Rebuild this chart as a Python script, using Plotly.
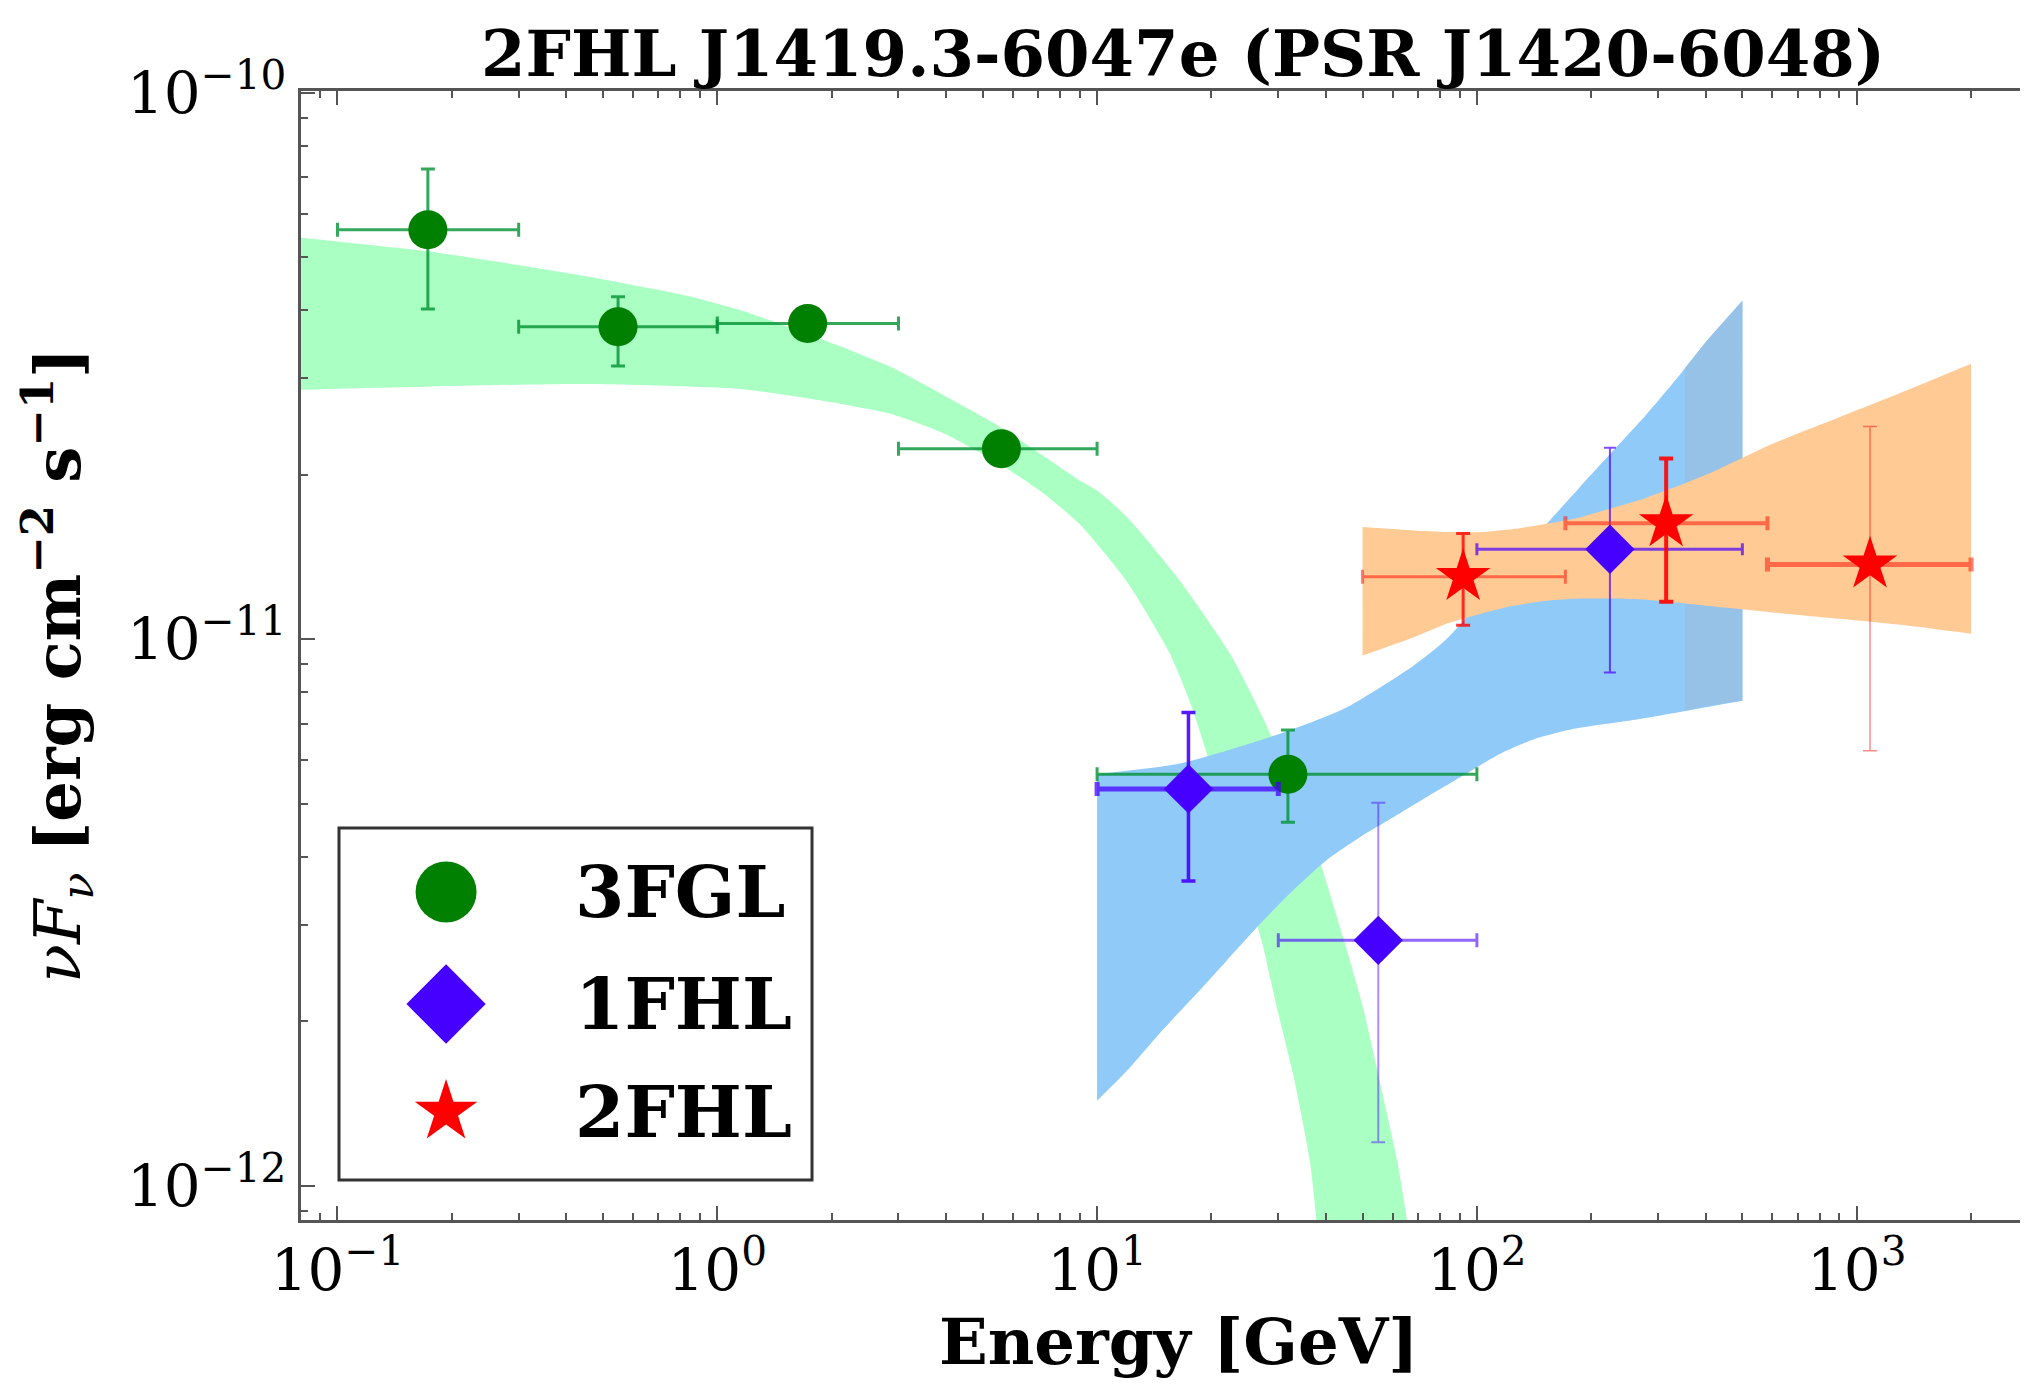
import plotly.graph_objects as go

# ---------------- data ----------------
series_names = ["3FGL", "1FHL", "2FHL"]

# 3FGL points (energy in GeV, flux nuFnu in erg cm^-2 s^-1)
fgl3_energy = [0.173, 0.548, 1.73, 5.6, 31.8]
fgl3_flux = [5.61e-11, 3.73e-11, 3.78e-11, 2.23e-11, 5.66e-12]
fgl3_e_low = [0.1, 0.3, 1.0, 3.0, 10.0]
fgl3_e_high = [0.3, 1.0, 3.0, 10.0, 100.0]
fgl3_f_low = [4.02e-11, 3.16e-11, 3.64e-11, 2.17e-11, 4.62e-12]
fgl3_f_high = [7.25e-11, 4.23e-11, 3.92e-11, 2.29e-11, 6.82e-12]

# 1FHL points
fhl1_energy = [17.4, 55.0, 224.0]
fhl1_flux = [5.32e-12, 2.81e-12, 1.46e-11]
fhl1_e_low = [10.0, 30.0, 100.0]
fhl1_e_high = [30.0, 100.0, 500.0]
fhl1_f_low = [3.61e-12, 1.20e-12, 8.69e-12]
fhl1_f_high = [7.34e-12, 5.02e-12, 2.24e-11]

# 2FHL points
fhl2_energy = [92.0, 315.0, 1084.0]
fhl2_flux = [1.30e-11, 1.63e-11, 1.37e-11]
fhl2_e_low = [50.0, 171.0, 582.0]
fhl2_e_high = [171.0, 582.0, 2000.0]
fhl2_f_low = [1.06e-11, 1.17e-11, 6.25e-12]
fhl2_f_high = [1.56e-11, 2.14e-11, 2.45e-11]

# 3FGL model band
band3fgl_e_upper = [0.0794, 0.178, 0.447, 0.832, 1.148, 1.549, 2.138, 2.884, 3.890,
                    5.370, 7.244, 8.913, 10.0, 12.02, 16.22, 22.39, 27.54, 36.3,
                    44.67, 50.12, 54.95, 61.66, 66.07]
band3fgl_f_upper = [5.43e-11, 5.11e-11, 4.62e-11, 4.25e-11, 4.00e-11, 3.72e-11, 3.42e-11,
                    3.14e-11, 2.81e-11, 2.48e-11, 2.16e-11, 1.96e-11, 1.87e-11, 1.67e-11,
                    1.30e-11, 9.40e-12, 7.10e-12, 4.47e-12, 2.81e-12, 2.12e-12, 1.60e-12,
                    1.11e-12, 8.3e-13]
band3fgl_e_lower = [0.0794, 0.178, 0.447, 1.148, 1.549, 2.138, 2.884, 3.890, 5.370,
                    7.244, 9.016, 12.02, 15.49, 17.78, 22.13, 27.10, 29.72, 32.81,
                    36.31, 38.02]
band3fgl_f_lower = [2.86e-11, 2.90e-11, 2.93e-11, 2.87e-11, 2.79e-11, 2.69e-11, 2.58e-11,
                    2.39e-11, 2.12e-11, 1.845e-11, 1.62e-11, 1.27e-11, 9.45e-12, 7.50e-12,
                    4.60e-12, 2.81e-12, 2.12e-12, 1.60e-12, 1.11e-12, 8.3e-13]

# 1FHL model band
band1fhl_e_upper = [10.0, 16.52, 30.27, 45.39, 67.92, 83.18, 152.8, 186.6, 228.6,
                    279.9, 342.8, 402.7, 500.0]
band1fhl_f_upper = [5.66e-12, 5.92e-12, 6.71e-12, 7.50e-12, 8.93e-12, 1.00e-11, 1.626e-11,
                    1.897e-11, 2.213e-11, 2.58e-11, 3.05e-11, 3.51e-11, 4.16e-11]
band1fhl_e_lower = [10.0, 11.97, 14.62, 17.91, 21.93, 26.85, 32.81, 40.18, 49.20,
                    60.26, 73.79, 90.16, 115.1, 141.3, 177.8, 268.5, 500.0]
band1fhl_f_lower = [1.43e-12, 1.62e-12, 1.90e-12, 2.21e-12, 2.58e-12, 3.01e-12, 3.47e-12,
                    3.94e-12, 4.34e-12, 4.72e-12, 5.14e-12, 5.58e-12, 6.17e-12, 6.56e-12,
                    6.84e-12, 7.14e-12, 7.71e-12]
# darker strip at the high-energy end of the 1FHL band
strip1fhl_e = [353.0, 402.7, 500.0]
strip1fhl_f_upper = [3.13e-11, 3.51e-11, 4.16e-11]
strip1fhl_f_lower = [7.40e-12, 7.55e-12, 7.71e-12]

# 2FHL model band
band2fhl_e = [50.0, 67.92, 83.18, 101.9, 124.7, 152.8, 186.6, 228.6, 279.9, 402.7,
              602.6, 903.6, 1352.0, 2000.0]
band2fhl_f_upper = [1.603e-11, 1.58e-11, 1.57e-11, 1.568e-11, 1.59e-11, 1.626e-11, 1.67e-11,
                    1.74e-11, 1.815e-11, 2.00e-11, 2.28e-11, 2.55e-11, 2.85e-11, 3.19e-11]
band2fhl_f_lower = [9.33e-12, 1.007e-11, 1.067e-11, 1.112e-11, 1.151e-11, 1.175e-11,
                    1.186e-11, 1.186e-11, 1.180e-11, 1.151e-11, 1.119e-11, 1.089e-11,
                    1.059e-11, 1.023e-11]

x_tick_vals = [0.1, 1, 10, 100, 1000]
x_tick_text = ["10<sup>\u22121</sup>", "10<sup>0</sup>", "10<sup>1</sup>", "10<sup>2</sup>", "10<sup>3</sup>"]
y_tick_vals = [1e-12, 1e-11, 1e-10]
y_tick_text = ["10<sup>\u221212</sup>", "10<sup>\u221211</sup>", "10<sup>\u221210</sup>"]

title_text = "2FHL J1419.3-6047e (PSR J1420-6048)"
x_title = "Energy [GeV]"
y_title = "<i>\u03bdF</i><sub><i>\u03bd</i></sub> <b>[erg cm<sup>\u22122</sup> s<sup>\u22121</sup>]</b>"

# ---------------- styles ----------------
FONT = "DejaVu Serif"
C_GREEN = "#008000"
C_BLUE = "#4600ff"
C_RED = "#ff0000"
BAND_GREEN = "#aaffc3"
BAND_BLUE = "#90caf9"
STRIP_BLUE = "#96c2e7"
BAND_ORANGE = "#ffca94"

fig = go.Figure()


def band(e_up, f_up, e_lo, f_lo, color, smooth=True):
    shape = "spline" if smooth else "linear"
    # lower edge first (invisible), then upper edge filled down to it
    fig.add_trace(go.Scatter(
        x=list(e_lo), y=list(f_lo), mode="lines",
        line=dict(width=0, color=color, shape=shape, smoothing=0.6),
        hoverinfo="skip", showlegend=False))
    fig.add_trace(go.Scatter(
        x=list(e_up), y=list(f_up), mode="lines", fill="tonexty", fillcolor=color,
        line=dict(width=0, color=color, shape=shape, smoothing=0.6),
        hoverinfo="skip", showlegend=False))


band(band3fgl_e_upper, band3fgl_f_upper, band3fgl_e_lower, band3fgl_f_lower, BAND_GREEN)
band(band1fhl_e_upper, band1fhl_f_upper, band1fhl_e_lower, band1fhl_f_lower, BAND_BLUE)
band(strip1fhl_e, strip1fhl_f_upper, strip1fhl_e, strip1fhl_f_lower, STRIP_BLUE, smooth=False)
band(band2fhl_e, band2fhl_f_upper, band2fhl_e, band2fhl_f_lower, BAND_ORANGE)


def points(name, energy, flux, elo, ehi, flo, fhi, color, symbol, size, styles):
    for i in range(len(energy)):
        st = styles[i]
        fig.add_trace(go.Scatter(
            x=[energy[i]], y=[flux[i]], mode="markers", name=name,
            showlegend=False, hoverinfo="skip",
            marker=dict(color=color, symbol=symbol, size=size, line=dict(width=0)),
            error_x=dict(type="data", symmetric=False,
                         array=[ehi[i] - energy[i]], arrayminus=[energy[i] - elo[i]],
                         color=st["xc"], thickness=st["xt"], width=st["w"]),
            error_y=dict(type="data", symmetric=False,
                         array=[fhi[i] - flux[i]], arrayminus=[flux[i] - flo[i]],
                         color=st["yc"], thickness=st["yt"], width=st["w"]),
        ))


g_err = "rgba(0,145,50,0.8)"
fgl3_styles = [dict(xc=g_err, yc=g_err, xt=3, yt=3, w=7)] * 5
fhl1_styles = [
    dict(xc="rgba(70,0,255,0.75)", yc="rgba(70,0,255,0.9)", xt=5, yt=3.5, w=7),
    dict(xc="rgba(70,0,255,0.6)", yc="rgba(70,0,255,0.45)", xt=3, yt=2, w=7),
    dict(xc="rgba(70,0,255,0.7)", yc="rgba(70,0,255,0.7)", xt=3, yt=2, w=6),
]
fhl2_styles = [
    dict(xc="rgba(255,40,20,0.6)", yc="rgba(255,0,0,0.8)", xt=3, yt=3, w=7),
    dict(xc="rgba(255,40,20,0.6)", yc="rgba(255,0,0,0.9)", xt=4, yt=4, w=7),
    dict(xc="rgba(255,40,20,0.6)", yc="rgba(255,0,0,0.45)", xt=5, yt=1.5, w=7),
]

points(series_names[0], fgl3_energy, fgl3_flux, fgl3_e_low, fgl3_e_high, fgl3_f_low, fgl3_f_high,
       C_GREEN, "circle", 39, fgl3_styles)
points(series_names[1], fhl1_energy, fhl1_flux, fhl1_e_low, fhl1_e_high, fhl1_f_low, fhl1_f_high,
       C_BLUE, "diamond", 38, fhl1_styles)
points(series_names[2], fhl2_energy, fhl2_flux, fhl2_e_low, fhl2_e_high, fhl2_f_low, fhl2_f_high,
       C_RED, "star", 41, fhl2_styles)

# ---------------- custom legend (drawn in paper-like overlay axes) ----------------
leg_marker_x = 0.084
leg_text_x = 0.1575
leg_rows_y = [0.2905, 0.1913, 0.0957]
leg_symbols = ["circle", "diamond", "star"]
leg_colors = [C_GREEN, C_BLUE, C_RED]
leg_sizes = [61, 61, 47]
for i in range(3):
    fig.add_trace(go.Scatter(
        x=[leg_marker_x], y=[leg_rows_y[i]], xaxis="x2", yaxis="y2", mode="markers",
        marker=dict(symbol=leg_symbols[i], color=leg_colors[i], size=leg_sizes[i], line=dict(width=0)),
        showlegend=False, hoverinfo="skip", cliponaxis=False))
    fig.add_annotation(x=leg_text_x, y=leg_rows_y[i], xref="paper", yref="paper",
                       text="<b>" + series_names[i] + "</b>", showarrow=False,
                       xanchor="left", yanchor="middle",
                       font=dict(family=FONT, size=71, color="black"))

fig.add_shape(type="rect", xref="paper", yref="paper", x0=0.022, x1=0.2959, y0=0.0354, y1=0.3472,
              line=dict(color="#333333", width=3), fillcolor="rgba(0,0,0,0)", layer="above")

# ---------------- titles ----------------
fig.add_annotation(x=0.5107, y=1.0328, xref="paper", yref="paper", text="<b>" + title_text + "</b>",
                   showarrow=False, xanchor="center", yanchor="middle",
                   font=dict(family=FONT, size=64, color="black"))
fig.add_annotation(x=0.5085, y=-0.1075, xref="paper", yref="paper", text="<b>" + x_title + "</b>",
                   showarrow=False, xanchor="center", yanchor="middle",
                   font=dict(family=FONT, size=64, color="black"))
fig.add_annotation(x=-0.1407, y=0.4907, xref="paper", yref="paper", text=y_title, textangle=-90,
                   showarrow=False, xanchor="center", yanchor="middle",
                   font=dict(family=FONT, size=64, color="black"))

axis_common = dict(
    type="log", showgrid=False, zeroline=False, showline=True, linecolor="#555555", linewidth=3,
    ticks="inside", ticklen=14, tickwidth=2, tickcolor="#555555",
    tickfont=dict(family=FONT, size=58, color="black"),
    minor=dict(ticks="inside", ticklen=7, tickwidth=1.5, tickcolor="#555555", dtick="D1", showgrid=False),
)

# the page body adds an 8px margin, so the figure is sized/offset to compensate
fig.update_layout(
    width=2020, height=1384,
    margin=dict(l=293, r=0, t=83, b=172),
    paper_bgcolor="white", plot_bgcolor="white",
    showlegend=False,
    xaxis=dict(axis_common, range=[-1.096, 3.451], tickvals=x_tick_vals, ticktext=x_tick_text,
               mirror="ticks", ticklabelstandoff=-3),
    yaxis=dict(axis_common, range=[-12.063, -9.997], tickvals=y_tick_vals, ticktext=y_tick_text,
               mirror=False),
    xaxis2=dict(overlaying="x", range=[0, 1], visible=False, fixedrange=True),
    yaxis2=dict(overlaying="y", range=[0, 1], visible=False, fixedrange=True),
)

fig.write_html("out.html")
